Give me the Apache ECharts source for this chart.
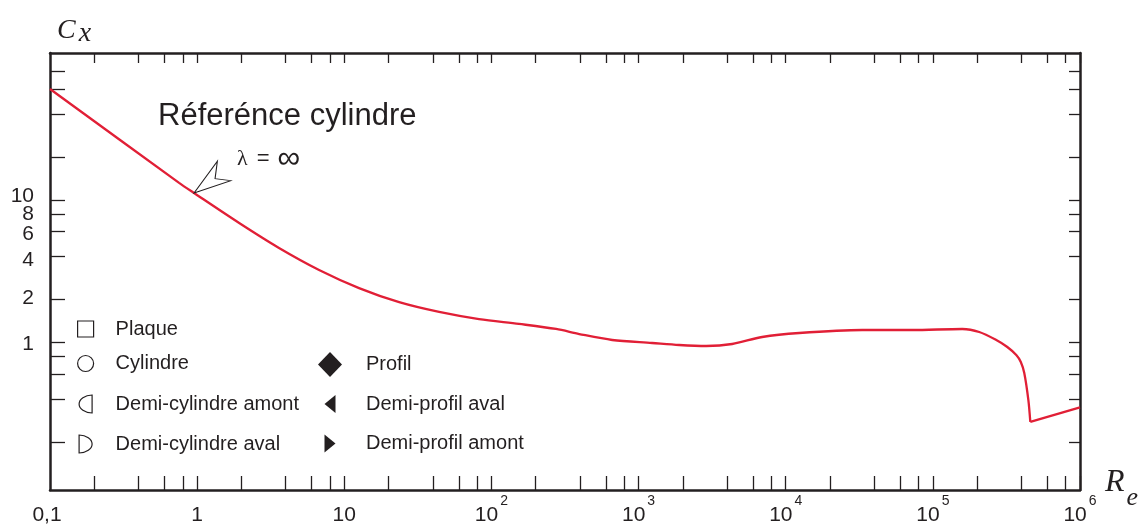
<!DOCTYPE html>
<html>
<head>
<meta charset="utf-8">
<script src="https://cdn.jsdelivr.net/npm/echarts@6.0.0/dist/echarts.min.js"></script>
<style>html,body{margin:0;padding:0;background:#fff}#c{width:1142px;height:531px}</style>
</head>
<body>
<div id="c"></div>
<script>
// ---- data ----
const reynolds = [0.1, 0.754, 0.953, 1.93, 3.60, 6.74, 12.6, 23.6, 44.1, 82.4, 154, 275, 395, 662, 1236, 1888, 2884, 4326, 6918, 12360, 33110, 72440, 158500, 206600, 269800, 320600, 368900, 396000, 418100, 445600, 459500];
const dragCx   = [60.1, 13.2, 11.2, 6.90, 4.61, 3.23, 2.41, 1.92, 1.64, 1.46, 1.35, 1.244, 1.147, 1.041, 0.992, 0.960, 0.945, 0.976, 1.093, 1.166, 1.224, 1.224, 1.244, 1.185, 1.041, 0.930, 0.817, 0.730, 0.611, 0.395, 0.277];
const reynoldsTail = [459500, 1000000];
const dragCxTail   = [0.277, 0.35];

const xTickValues = [0.2,0.4,0.6,0.8,1,2,4,6,8,10,20,40,60,80,100,200,400,600,800,1000,2000,4000,6000,8000,10000,20000,40000,60000,80000,100000,200000,400000,600000,800000,1000000];
const xLabelValues = [0.1,1,10,100,1000,10000,100000,1000000];
const yTickValues = [0.2,0.4,0.6,0.8,1,2,4,6,8,10,20,40,60,80];
const yLabelValues = [1,2,4,6,10];
const yLabelValuesExtra = [8];   // drawn on a twin axis so it is not hidden next to "10"

const legendNames = ['Plaque','Cylindre','Demi-cylindre amont','Demi-cylindre aval','Profil','Demi-profil aval','Demi-profil amont'];
const curveName = 'Réferénce cylindre';
const lambdaLabel = ['λ', '=', '∞'];
const arrowTip = [0.953, 11.2];

// ---- styling / layout ----
const INK = '#231f20', RED = '#e11f36';
const SANS = '"Liberation Sans", Arial, sans-serif';
const SERIF = '"Liberation Serif", "Times New Roman", serif';
const X_MIN = 0.1, X_MAX = 1000000, Y_MIN = 0.0922, Y_MAX = 107.6;

const legendIcons = {
  'Plaque': 'path://M0,0L16,0L16,16L0,16Z',
  'Cylindre': 'circle',
  'Demi-cylindre amont': 'path://M13,0A13,9 0 0 0 13,18Z',
  'Demi-cylindre aval': 'path://M0,0A13,9 0 0 1 0,18Z',
  'Profil': 'path://M12,0L24,12.5L12,25L0,12.5Z',
  'Demi-profil aval': 'path://M11,0L0,9L11,18Z',
  'Demi-profil amont': 'path://M0,0L11,9L0,18Z'
};
// [centerX, centerY, itemWidth, itemHeight, iconWidth, filled]
const legendLayout = {
  'Plaque': [85, 329, 50, 16, 16, false],
  'Cylindre': [85, 363.5, 50, 16, 16, false],
  'Demi-cylindre amont': [85, 404, 50, 18, 13, false],
  'Demi-cylindre aval': [85, 444, 50, 18, 13, false],
  'Profil': [330, 364.5, 62, 25, 24, true],
  'Demi-profil aval': [330, 404, 62, 18, 11, true],
  'Demi-profil amont': [330, 443.5, 62, 18, 11, true]
};
const LEGEND_FONT = 20;

const legends = legendNames.map(function (n) {
  const L = legendLayout[n];
  const h = Math.max(L[3], LEGEND_FONT);
  return {
    data: [{ name: n, icon: legendIcons[n] }],
    left: L[0] - L[4] / 2,
    top: L[1] - h / 2,
    itemWidth: L[2], itemHeight: L[3], padding: 0,
    selectedMode: false, symbolKeepAspect: true,
    textStyle: { fontSize: LEGEND_FONT, lineHeight: LEGEND_FONT, color: INK, fontFamily: SANS },
    itemStyle: L[5] ? { color: INK, borderWidth: 0, opacity: 1 } : { color: '#fff', borderColor: INK, borderWidth: 1.2, opacity: 1 }
  };
});

const legendSeries = legendNames.map(function (n) {
  const filled = legendLayout[n][5];
  return {
    type: 'scatter', name: n, data: [],
    itemStyle: filled ? { color: INK, opacity: 1 } : { color: '#fff', borderColor: INK, borderWidth: 1.2, opacity: 1 }
  };
});

// per-label vertical nudges of the y tick labels (px, + = down)
const yLabelNudge = { 1: 2, 2: -1, 4: 3.5, 6: 2.5, 8: 0.5, 10: -3.5 };
const yRich = {};
Object.keys(yLabelNudge).forEach(function (k) {
  const o = yLabelNudge[k];
  yRich['y' + k] = { fontSize: 21, lineHeight: 10, fontFamily: SANS, color: INK,
    padding: [o > 0 ? 2 * o : 0, 0, o < 0 ? -2 * o : 0, 0] };
});
const yLabelFormatter = function (v) { const k = Math.round(v); return '{y' + k + '|' + k + '}'; };

const tickStyle = { color: INK, width: 1.3 };
const lineAxis = { show: true, lineStyle: { color: INK, width: 2.5 } };

const option = {
  animation: false,
  backgroundColor: '#fff',
  grid: { left: 50, right: 62, top: 53, bottom: 41, containLabel: false, outerBoundsMode: 'none' },
  legend: legends,
  xAxis: [
    {
      type: 'log', logBase: 10, min: X_MIN, max: X_MAX, position: 'bottom',
      axisLine: lineAxis,
      axisTick: { show: true, inside: true, length: 14, customValues: xTickValues, lineStyle: tickStyle },
      minorTick: { show: false },
      splitLine: { show: false },
      axisLabel: {
        show: true, customValues: xLabelValues, margin: 4, color: INK, hideOverlap: false,
        showMinLabel: true, showMaxLabel: true,
        formatter: function (v) {
          if (v < 0.5) return '{z|0,1}';
          const e = Math.round(Math.log10(v));
          if (e <= 1) return '{b|' + Math.round(v) + '}';
          return '{b|10}{s|' + e + '}';
        },
        rich: {
          b: { fontSize: 21, lineHeight: 32, verticalAlign: 'bottom', fontFamily: SANS, color: INK },
          z: { fontSize: 21, lineHeight: 32, verticalAlign: 'bottom', fontFamily: SANS, color: INK, padding: [0, 6, 0, 0] },
          s: { fontSize: 14, verticalAlign: 'top', padding: [0, 0, 0, 2], fontFamily: SANS, color: INK }
        }
      },
      name: '{r|R}{e|e}', nameLocation: 'end', nameGap: 25,
      nameTextStyle: {
        align: 'left', verticalAlign: 'middle', padding: [0, 0, 2, 0],
        rich: {
          r: { fontFamily: SERIF, fontStyle: 'italic', fontSize: 32, verticalAlign: 'top', color: INK },
          e: { fontFamily: SERIF, fontStyle: 'italic', fontSize: 26, verticalAlign: 'top', padding: [18, 0, 0, 2], color: INK }
        }
      }
    },
    {
      type: 'log', logBase: 10, min: X_MIN, max: X_MAX, position: 'top',
      axisLine: lineAxis,
      axisTick: { show: true, inside: true, length: 10, customValues: xTickValues, lineStyle: tickStyle },
      minorTick: { show: false }, splitLine: { show: false }, axisLabel: { show: false }
    }
  ],
  yAxis: [
    {
      type: 'log', logBase: 10, min: Y_MIN, max: Y_MAX, position: 'left',
      axisLine: lineAxis,
      axisTick: { show: true, inside: true, length: 15, customValues: yTickValues, lineStyle: tickStyle },
      minorTick: { show: false }, splitLine: { show: false },
      axisLabel: { show: true, customValues: yLabelValues, margin: 16, fontSize: 21, color: INK, fontFamily: SANS,
        hideOverlap: false, showMinLabel: true, showMaxLabel: true, rich: yRich, formatter: yLabelFormatter },
      name: '{c|C}{x|x}', nameLocation: 'end', nameGap: 5,
      nameTextStyle: {
        align: 'left', verticalAlign: 'bottom', padding: [0, 0, 0, 7],
        rich: {
          c: { fontFamily: SERIF, fontStyle: 'italic', fontSize: 28, verticalAlign: 'top', color: INK },
          x: { fontFamily: SERIF, fontStyle: 'italic', fontSize: 28, verticalAlign: 'top', padding: [3, 0, 0, 3], color: INK }
        }
      }
    },
    {
      type: 'log', logBase: 10, min: Y_MIN, max: Y_MAX, position: 'right',
      axisLine: lineAxis,
      axisTick: { show: true, inside: true, length: 11, customValues: yTickValues, lineStyle: tickStyle },
      minorTick: { show: false }, splitLine: { show: false }, axisLabel: { show: false }
    },
    {
      type: 'log', logBase: 10, min: Y_MIN, max: Y_MAX, position: 'left', offset: 0,
      axisLine: { show: false }, axisTick: { show: false }, minorTick: { show: false }, splitLine: { show: false },
      axisLabel: { show: true, customValues: yLabelValuesExtra, margin: 16, fontSize: 21, color: INK, fontFamily: SANS,
        hideOverlap: false, showMinLabel: true, showMaxLabel: true, rich: yRich, formatter: yLabelFormatter }
    }
  ],
  series: [
    {
      type: 'line', name: curveName, xAxisIndex: 0, yAxisIndex: 0,
      data: reynolds.map(function (r, i) { return [r, dragCx[i]]; }),
      smooth: 0.3, showSymbol: false, symbol: 'none',
      lineStyle: { color: RED, width: 2.3 }, itemStyle: { color: RED },
      silent: true, z: 3,
      markPoint: {
        silent: true,
        symbol: 'path://M0,31.7L23.3,0L21,17.3L36.7,19.3Z',
        symbolSize: [36.7, 31.7],
        symbolOffset: [18.35, -15.85],
        itemStyle: { color: '#fff', borderColor: INK, borderWidth: 1 },
        label: { show: false },
        data: [{ coord: arrowTip }]
      }
    },
    {
      type: 'line', name: curveName + ' ', xAxisIndex: 0, yAxisIndex: 0,
      data: reynoldsTail.map(function (r, i) { return [r, dragCxTail[i]]; }),
      showSymbol: false, symbol: 'none',
      lineStyle: { color: RED, width: 2.3 }, silent: true, z: 3
    }
  ].concat(legendSeries),
  graphic: [
    { type: 'text', x: 158, y: 116, silent: true,
      style: { text: curveName, fontSize: 31, fontFamily: SANS, fill: INK, align: 'left', verticalAlign: 'middle' } },
    { type: 'text', x: 237, y: 159, silent: true,
      style: {
        text: '{l|' + lambdaLabel[0] + '}{o|' + lambdaLabel[1] + '}{i|' + lambdaLabel[2] + '}',
        align: 'left', verticalAlign: 'middle', fill: INK,
        rich: {
          l: { fontSize: 22, fontFamily: SERIF, fill: INK },
          o: { fontSize: 22, fontFamily: SANS, fill: INK, padding: [0, 8, 0, 9] },
          i: { fontSize: 32, fontFamily: SANS, fill: INK }
        }
      } }
  ]
};

const chart = echarts.init(document.getElementById('c'), null, { renderer: 'canvas' });
chart.setOption(option);
</script>
</body>
</html>
